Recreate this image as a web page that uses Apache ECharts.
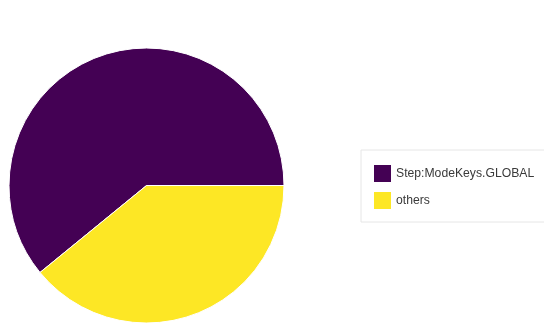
<!DOCTYPE html>
<html>
<head>
<meta charset="utf-8">
<script src="https://cdn.jsdelivr.net/npm/echarts@6/dist/echarts.min.js"></script>
<style>html,body{margin:0;padding:0;background:#fff;}#c{width:544px;height:324px;}</style>
</head>
<body>
<div id="c"></div>
<script>
const categories = ["Step:ModeKeys.GLOBAL", "others"];
const values = [60.9, 39.1];
const colors = ["#440154", "#fde725"];

const chart = echarts.init(document.getElementById('c'), null, {renderer: 'canvas'});
chart.setOption({
  animation: false,
  backgroundColor: '#ffffff',
  legend: {
    orient: 'vertical',
    left: 361,
    top: 150,
    padding: [15, 30, 13, 13],
    itemWidth: 17,
    itemHeight: 17,
    itemGap: 10,
    itemTextGap: 11,
    borderColor: '#e6e6e6',
    borderWidth: 1,
    icon: 'rect',
    itemStyle: {borderWidth: 0},
    textStyle: {fontFamily: 'Liberation Sans, Arial, sans-serif', fontSize: 12.2, color: '#3a3a3a'},
    data: categories
  },
  series: [{
    type: 'pie',
    center: [146.5, 185.5],
    radius: 137.5,
    startAngle: 0,
    clockwise: false,
    label: {show: false},
    labelLine: {show: false},
    emphasis: {disabled: true},
    itemStyle: {borderColor: '#ffffff', borderWidth: 1},
    data: categories.map((c, i) => ({name: c, value: values[i], itemStyle: {color: colors[i]}}))
  }]
});
</script>
</body>
</html>
